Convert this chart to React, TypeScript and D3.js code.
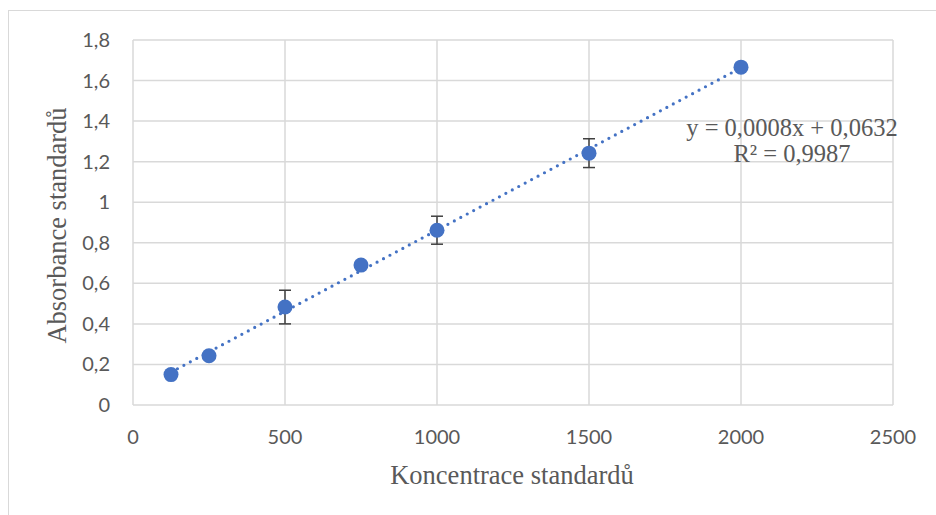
import React, { useEffect, useRef } from "react";
import * as d3 from "d3";

// calibration standards
const concentrations = [125, 250, 500, 750, 1000, 1500, 2000];
const absorbances = [0.15, 0.243, 0.483, 0.69, 0.862, 1.242, 1.666];
const errors = [0, 0, 0.083, 0, 0.069, 0.071, 0];
const xTicks = [0, 500, 1000, 1500, 2000, 2500];
const yTicks = [0, 0.2, 0.4, 0.6, 0.8, 1, 1.2, 1.4, 1.6, 1.8];
const equationLines = ["y = 0,0008x + 0,0632", "R² = 0,9987"];

const W = 936;
const H = 515;

function Chart() {
  const ref = useRef<SVGSVGElement>(null);

  useEffect(() => {
    const svg = d3.select(ref.current);
    svg.selectAll("*").remove();

    const left = 133,
      right = 893,
      top = 40,
      bottom = 405;

    // outer chart frame (runs past the window on right/bottom)
    svg
      .append("rect")
      .attr("x", 8.5)
      .attr("y", 10.5)
      .attr("width", W + 20)
      .attr("height", H + 20)
      .attr("fill", "white")
      .attr("stroke", "#d9d9d9")
      .attr("stroke-width", 1);

    const x = d3.scaleLinear().domain([0, 2500]).range([left, right]);
    const y = d3.scaleLinear().domain([0, 1.8]).range([bottom, top]);

    const grid = svg.append("g");
    grid
      .selectAll(".hg")
      .data(yTicks)
      .join("line")
      .attr("x1", left)
      .attr("x2", right)
      .attr("y1", (d) => y(d))
      .attr("y2", (d) => y(d))
      .attr("stroke", "#d9d9d9")
      .attr("stroke-width", 1.5);
    grid
      .selectAll(".vg")
      .data(xTicks)
      .join("line")
      .attr("x1", (d) => x(d))
      .attr("x2", (d) => x(d))
      .attr("y1", top)
      .attr("y2", bottom)
      .attr("stroke", "#d9d9d9")
      .attr("stroke-width", 1.5);

    // tick labels
    const fmt = (v: number) => String(+v.toFixed(1)).replace(".", ",");
    svg
      .append("g")
      .selectAll("text")
      .data(yTicks)
      .join("text")
      .attr("x", 110)
      .attr("y", (d) => y(d))
      .attr("dy", "0.35em")
      .attr("text-anchor", "end")
      .attr("font-family", "Lato, 'Open Sans', sans-serif")
      .attr("font-size", 20)
      .attr("fill", "#595959")
      .text(fmt);
    svg
      .append("g")
      .selectAll("text")
      .data(xTicks)
      .join("text")
      .attr("x", (d) => x(d))
      .attr("y", 437)
      .attr("dy", "0.35em")
      .attr("text-anchor", "middle")
      .attr("font-family", "Lato, 'Open Sans', sans-serif")
      .attr("font-size", 20)
      .attr("fill", "#595959")
      .text((d) => String(d));

    // axis titles
    svg
      .append("text")
      .attr("transform", `translate(57,${(top + bottom) / 2 + 3}) rotate(-90)`)
      .attr("text-anchor", "middle")
      .attr("dy", "0.35em")
      .attr("font-family", "'Liberation Serif', serif")
      .attr("font-size", 26.5)
      .attr("fill", "#595959")
      .text("Absorbance standardů");
    svg
      .append("text")
      .attr("x", 512)
      .attr("y", 475)
      .attr("text-anchor", "middle")
      .attr("dy", "0.35em")
      .attr("font-family", "'Liberation Serif', serif")
      .attr("font-size", 26.5)
      .attr("fill", "#595959")
      .text("Koncentrace standardů");

    // linear trendline (least squares on the points)
    const mx = d3.mean(concentrations)!;
    const my = d3.mean(absorbances)!;
    const sxy = d3.sum(concentrations, (c, i) => (c - mx) * (absorbances[i] - my));
    const sxx = d3.sum(concentrations, (c) => (c - mx) ** 2);
    const slope = sxy / sxx;
    const icpt = my - slope * mx;
    const ext = d3.extent(concentrations) as [number, number];
    svg
      .append("path")
      .datum(ext)
      .attr(
        "d",
        d3
          .line<number>()
          .x((d) => x(d))
          .y((d) => y(slope * d + icpt))
      )
      .attr("fill", "none")
      .attr("stroke", "#4472C4")
      .attr("stroke-width", 3.2)
      .attr("stroke-linecap", "round")
      .attr("stroke-dasharray", "0 7.3");

    // error bars
    const eb = svg
      .append("g")
      .selectAll("g")
      .data(concentrations.map((c, i) => ({ c, a: absorbances[i], e: errors[i] })).filter((d) => d.e > 0))
      .join("g")
      .attr("stroke", "#404040")
      .attr("stroke-width", 1.5);
    eb.append("line")
      .attr("x1", (d) => x(d.c))
      .attr("x2", (d) => x(d.c))
      .attr("y1", (d) => y(d.a + d.e))
      .attr("y2", (d) => y(d.a - d.e));
    eb.append("line")
      .attr("x1", (d) => x(d.c) - 6)
      .attr("x2", (d) => x(d.c) + 6)
      .attr("y1", (d) => y(d.a + d.e))
      .attr("y2", (d) => y(d.a + d.e));
    eb.append("line")
      .attr("x1", (d) => x(d.c) - 6)
      .attr("x2", (d) => x(d.c) + 6)
      .attr("y1", (d) => y(d.a - d.e))
      .attr("y2", (d) => y(d.a - d.e));

    // markers
    svg
      .append("g")
      .selectAll("circle")
      .data(concentrations)
      .join("circle")
      .attr("cx", (d) => x(d))
      .attr("cy", (d, i) => y(absorbances[i]))
      .attr("r", 7.5)
      .attr("fill", "#4472C4");

    // equation label
    svg
      .append("g")
      .selectAll("text")
      .data(equationLines)
      .join("text")
      .attr("x", 792)
      .attr("y", (d, i) => 127 + i * 26)
      .attr("dy", "0.35em")
      .attr("text-anchor", "middle")
      .attr("font-family", "'Liberation Serif', serif")
      .attr("font-size", 24.5)
      .attr("fill", "#595959")
      .text((d) => d);
  }, []);

  return (
    <svg
      ref={ref}
      width={W}
      height={H}
      style={{ position: "absolute", left: 0, top: 0, background: "white" }}
    />
  );
}

export default function App() {
  return <Chart />;
}
